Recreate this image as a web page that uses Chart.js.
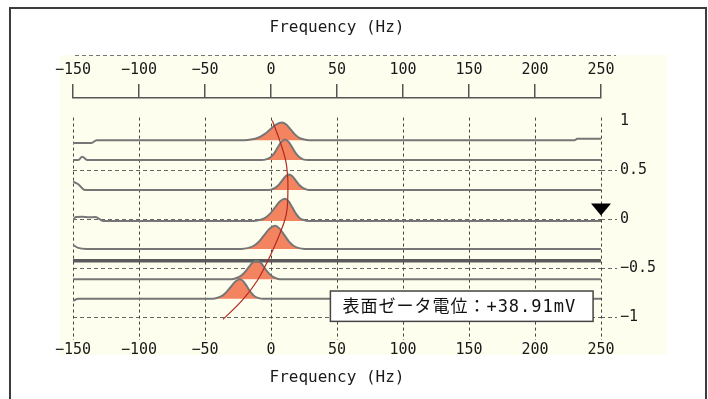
<!DOCTYPE html>
<html>
<head>
<meta charset="utf-8">
<script src="https://cdn.jsdelivr.net/npm/chart.js@4"></script>
<style>
  html, body { margin: 0; padding: 0; background: #fff; }
</style>
</head>
<body>
<canvas id="canva1" width="708" height="399"></canvas>
<script>
// axis ticks
var xTicks = [-150, -100, -50, 0, 50, 100, 150, 200, 250];
var yTicks = [1, 0.5, 0, -0.5, -1];
var yTickLabels = ['1', '0.5', '0', '\u22120.5', '\u22121'];

// spectra, one per cell depth: [frequency Hz, offset]
var trace1 = [[-150,0.78],[-136,0.78],[-132,0.81],[-20.5,0.81],[-15.1,0.816],[-9.7,0.834],[-5.2,0.869],[-0.7,0.919],[3.8,0.969],[8.3,0.99],[11.6,0.969],[14.8,0.919],[18.1,0.869],[21.3,0.834],[25.2,0.816],[29.1,0.81],[230,0.81],[232,0.825],[250,0.825]];
var trace2 = [[-150,0.607],[-146,0.607],[-143,0.64],[-139,0.607],[-7,0.607],[-3.7,0.614],[-0.4,0.635],[2.35,0.675],[5.1,0.734],[7.85,0.792],[10.6,0.817],[13.35,0.792],[16.1,0.734],[18.85,0.675],[21.6,0.635],[24.3,0.614],[28.2,0.607],[250,0.607]];
var trace3 = [[-150,0.385],[-146,0.36],[-141,0.30],[-3,0.30],[0.1,0.305],[3.2,0.322],[5.8,0.352],[8.4,0.397],[11,0.441],[13.6,0.46],[16.2,0.441],[18.8,0.397],[21.4,0.352],[24,0.322],[27.1,0.305],[30.2,0.30],[250,0.30]];
var trace4 = [[-150,-0.01],[-148,0.025],[-143,0.028],[-138,0.022],[-133,0.026],[-127,-0.015],[-13.4,-0.015],[-8.9,-0.006],[-4.4,0.016],[-0.65,0.06],[3.1,0.124],[6.85,0.185],[10.6,0.212],[13.35,0.185],[16.1,0.124],[18.85,0.06],[21.6,0.016],[24.9,-0.006],[28.2,-0.015],[250,-0.015]];
var trace5 = [[-150,-0.26],[-146,-0.29],[-140,-0.30],[-22.6,-0.30],[-17.8,-0.292],[-13,-0.268],[-9,-0.224],[-5,-0.157],[-1,-0.093],[3,-0.065],[6.5,-0.093],[10,-0.157],[13.5,-0.224],[17,-0.268],[21.2,-0.292],[25.4,-0.30],[250,-0.30]];
var trace6 = [[-150,-0.61],[-31.6,-0.61],[-27.7,-0.604],[-23.8,-0.584],[-20.55,-0.548],[-17.3,-0.495],[-14.05,-0.442],[-10.8,-0.42],[-7.8,-0.442],[-4.8,-0.495],[-1.8,-0.548],[1.2,-0.584],[4.8,-0.604],[8.4,-0.61],[250,-0.61]];
var trace7 = [[-150,-0.83],[-146,-0.81],[-45.9,-0.81],[-41.7,-0.803],[-37.5,-0.783],[-34,-0.745],[-30.5,-0.689],[-27,-0.634],[-23.5,-0.61],[-20.75,-0.634],[-18,-0.689],[-15.25,-0.745],[-12.5,-0.783],[-9.2,-0.803],[-5.9,-0.81],[250,-0.81]];
var traces = [trace1, trace2, trace3, trace4, trace5, trace6, trace7];
var baselines = [0.81, 0.607, 0.30, -0.015, -0.30, -0.61, -0.81];
var peakRanges = [[-20.5,29.1],[-7,28.2],[-3,30.2],[-13.4,28.2],[-22.6,25.4],[-31.6,8.4],[-45.9,-5.9]];

// stationary layer line and parabola through the peaks
var stationary = [[-150,-0.42],[250,-0.42]];
var parabola = [[1.0,1.01],[6.5,0.81],[11.0,0.61],[12.6,0.44],[12.8,0.30],[12.3,0.12],[10.6,0.0],[6.8,-0.14],[1.5,-0.31],[-2.0,-0.41],[-10.2,-0.62],[-21.5,-0.82],[-36.4,-1.02]];

var markerX = 250, markerY = 0;
var zetaText = '表面ゼータ電位：+38.91mV';

var datasets = [];
traces.forEach(function (t, i) {
    datasets.push({
        data: t.filter(function (p) { return p[0] >= peakRanges[i][0] && p[0] <= peakRanges[i][1]; }),
        borderWidth: 0,
        backgroundColor: '#F4845F',
        fill: { value: baselines[i] },
        cubicInterpolationMode: 'monotone',
        order: 4
    });
    datasets.push({
        data: t,
        borderColor: '#767676',
        borderWidth: 2,
        fill: false,
        cubicInterpolationMode: 'monotone',
        order: 2
    });
});
datasets.push({ data: stationary, borderColor: '#5a5a5a', borderWidth: 3.5, fill: false, order: 3 });
datasets.push({ data: parabola, borderColor: '#B02A22', borderWidth: 1.2, fill: false, tension: 0.4, order: 1 });

var minus = function (v) { return String(v).replace('-', '\u2212'); };
var setX = function (scale) { scale.ticks = xTicks.map(function (v) { return { value: v }; }); };

var decor = {
    id: 'decor',
    beforeDraw: function (chart) {
        var c = chart.ctx, a = chart.chartArea;
        c.save();
        c.fillStyle = '#fff';
        c.fillRect(0, 0, chart.width, chart.height);
        c.fillStyle = '#FEFEEF';
        c.fillRect(a.left - 13, 55, a.right + 66 - (a.left - 13), a.bottom + 15 - 55);
        c.strokeStyle = '#3c3c3c';
        c.lineWidth = 2;
        c.strokeRect(10, 8, 696, 420);
        c.strokeStyle = '#777';
        c.lineWidth = 1;
        c.setLineDash([4, 3]);
        c.beginPath();
        c.moveTo(a.left + 2, 55.5);
        c.lineTo(a.right + 15, 55.5);
        c.stroke();
        c.restore();
    },
    beforeDatasetsDraw: function (chart) {
        var c = chart.ctx, a = chart.chartArea;
        var xs = chart.scales.x, ys = chart.scales.y;
        c.save();
        c.strokeStyle = '#444';
        c.lineWidth = 1;
        c.setLineDash([3, 3]);
        xTicks.forEach(function (v) {
            var px = Math.round(xs.getPixelForValue(v)) + 0.5;
            c.beginPath();
            c.moveTo(px, ys.getPixelForValue(1.04));
            c.lineTo(px, a.bottom);
            c.stroke();
        });
        c.restore();
    },
    afterDatasetsDraw: function (chart) {
        var c = chart.ctx;
        var xs = chart.scales.x, ys = chart.scales.y;
        c.save();
        // marker
        var mx = xs.getPixelForValue(markerX), my = ys.getPixelForValue(markerY) - 4;
        c.fillStyle = '#000';
        c.beginPath();
        c.moveTo(mx - 10, my - 12);
        c.lineTo(mx + 10, my - 12);
        c.lineTo(mx, my);
        c.closePath();
        c.fill();
        // zeta potential box
        var l = xs.getPixelForValue(45), r = xs.getPixelForValue(244);
        var t = ys.getPixelForValue(-0.73), b = ys.getPixelForValue(-1.04);
        c.fillStyle = '#fff';
        c.fillRect(l, t, r - l, b - t);
        c.strokeStyle = '#444';
        c.lineWidth = 1.5;
        c.strokeRect(l, t, r - l, b - t);
        c.fillStyle = '#111';
        c.font = '17px "DejaVu Sans Mono", "Noto Sans CJK JP", monospace';
        c.letterSpacing = '1px';
        c.textBaseline = 'middle';
        c.fillText(zetaText, l + 12, (t + b) / 2 + 1);
        c.restore();
    }
};

var ctx = document.getElementById('canva1').getContext('2d');
Chart.defaults.font.family = '"DejaVu Sans Mono", monospace';
Chart.defaults.font.size = 15;
Chart.defaults.color = '#1a1a1a';

var myChart = new Chart(ctx, {
    type: 'line',
    data: { datasets: datasets },
    options: {
        responsive: false,
        animation: false,
        layout: { padding: { left: 73, right: 0, top: 0, bottom: 0 } },
        elements: { point: { radius: 0 } },
        plugins: { legend: { display: false }, tooltip: { enabled: false } },
        scales: {
            x: {
                type: 'linear', position: 'bottom', min: -150, max: 250,
                afterBuildTicks: setX,
                afterFit: function (s) { s.height = 59; },
                ticks: { padding: 1, maxRotation: 0, callback: minus },
                grid: { display: false, drawTicks: false },
                border: { display: false },
                title: { display: true, text: 'Frequency (Hz)', font: { size: 16 }, padding: { top: 0, bottom: 12 } }
            },
            x2: {
                type: 'linear', position: 'top', min: -150, max: 250,
                afterBuildTicks: setX,
                afterFit: function (s) { s.height = 98; },
                ticks: { padding: 5, maxRotation: 0, callback: minus },
                grid: { drawOnChartArea: false, drawTicks: true, tickLength: 14, color: '#555', lineWidth: 1.5 },
                border: { display: true, color: '#555', width: 1.5 },
                title: { display: true, text: 'Frequency (Hz)', font: { size: 16 }, padding: { top: 18, bottom: 0 } }
            },
            y: {
                type: 'linear', position: 'right', min: -1.23, max: 1.24,
                afterBuildTicks: function (s) { s.ticks = yTicks.map(function (v) { return { value: v }; }); },
                afterFit: function (s) { s.width = 107; },
                ticks: {
                    padding: 3,
                    callback: function (v) { return yTickLabels[yTicks.indexOf(v)]; }
                },
                grid: {
                    color: function (c) { return c.tick && c.tick.value === 1 ? 'rgba(0,0,0,0)' : '#666'; },
                    tickColor: function (c) { return c.tick && c.tick.value === 1 ? 'rgba(0,0,0,0)' : '#666'; },
                    lineWidth: 1, tickLength: 16, tickBorderDash: [4, 3]
                },
                border: { display: false, dash: [4, 3] }
            }
        }
    },
    plugins: [decor]
});
</script>
</body>
</html>
